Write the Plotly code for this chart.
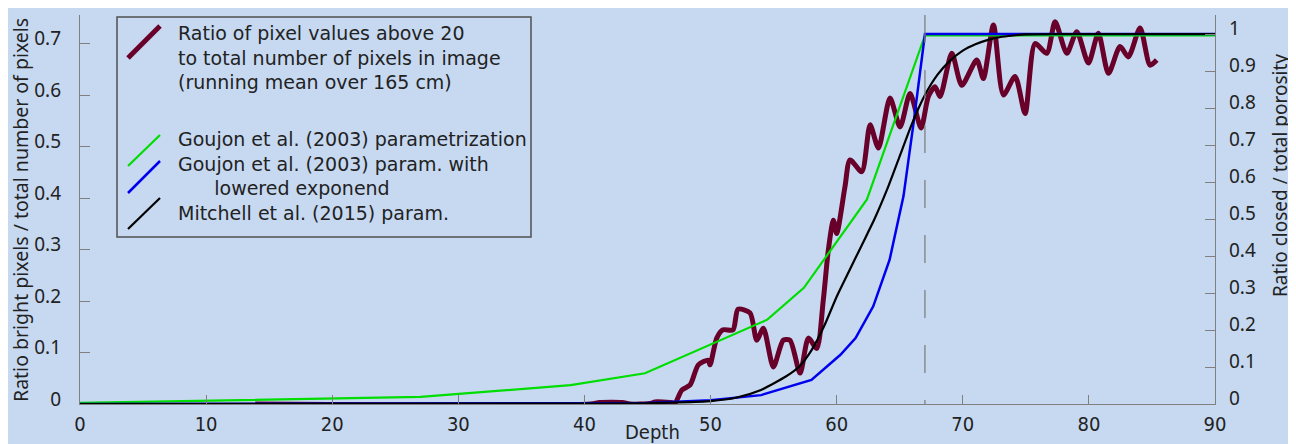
import plotly.graph_objects as go

# ---------------- data ----------------
# measured ratio (left axis)
meas_depth = [13.9, 40.5, 41.2, 43.0, 43.6, 45.2, 45.6, 46.8, 47.18, 47.72, 48.38, 49.03, 49.82, 49.96,
              50.49, 50.99, 51.78, 52.18, 53.13, 53.66, 54.19, 54.98, 55.77, 56.30, 57.10, 57.76,
              58.42, 58.94, 59.34, 59.74, 60.0, 60.66, 61.06, 61.99, 62.65, 63.31, 64.23, 65.03,
              65.82, 66.69, 67.27, 67.80, 68.20, 69.13, 69.92, 71.11, 71.63, 72.43, 73.22, 74.15,
              74.94, 75.73, 76.66, 77.32, 78.25, 79.04, 79.96, 80.75, 81.55, 82.47, 83.13, 84.06,
              84.85, 85.38]
meas_ratio = [0.0, 0.0, 0.003, 0.003, 0.0, 0.001, 0.004, 0.003, 0.002, 0.027, 0.037, 0.076, 0.085, 0.076,
              0.128, 0.144, 0.144, 0.184, 0.177, 0.124, 0.147, 0.072, 0.124, 0.124, 0.060, 0.128,
              0.108, 0.202, 0.299, 0.357, 0.331, 0.422, 0.474, 0.451, 0.542, 0.497, 0.594, 0.538,
              0.603, 0.536, 0.597, 0.616, 0.597, 0.681, 0.619, 0.668, 0.632, 0.736, 0.600, 0.636,
              0.564, 0.700, 0.681, 0.742, 0.681, 0.723, 0.662, 0.720, 0.642, 0.694, 0.674, 0.730,
              0.658, 0.668]

# Goujon et al. (2003) parametrization (right axis)
goujon_depth = [0, 27, 38.9, 44.8, 54.5, 57.4, 62.4, 67.0, 90]
goujon_ratio = [0.003, 0.019, 0.051, 0.083, 0.228, 0.314, 0.553, 0.996, 0.996]

# Goujon et al. (2003) with lowered exponent (right axis)
lowered_depth = [0, 45, 50, 54, 58, 60.3, 61.5, 62.9, 64.2, 65.3, 66.1, 67.0, 90]
lowered_ratio = [0.0, 0.003, 0.01, 0.024, 0.065, 0.133, 0.178, 0.264, 0.39, 0.562, 0.76, 1.0, 1.0]

# Mitchell et al. (2015) param. (right axis)
mitchell_depth = [0, 40, 45, 47, 50, 52, 54, 56, 57, 58, 59, 60, 61, 62, 63, 64, 65, 66, 67, 68, 69,
                  70, 71, 72, 73, 74, 75, 78, 90]
mitchell_ratio = [0.0, 0.001, 0.002, 0.004, 0.008, 0.017, 0.038, 0.075, 0.1, 0.145, 0.21, 0.29, 0.36,
                  0.43, 0.5, 0.58, 0.67, 0.76, 0.835, 0.89, 0.928, 0.955, 0.972, 0.984, 0.992, 0.996,
                  0.999, 1.0, 1.0]

x_ticks = [0, 10, 20, 30, 40, 50, 60, 70, 80, 90]
close_off_depth = 67.0

legend_measured = [
    "Ratio of pixel values above 20",
    "to total number of pixels in image",
    "(running mean over 165 cm)",
]
legend_models = [
    "Goujon et al. (2003) parametrization",
    "Goujon et al. (2003) param. with",
    "&nbsp;&nbsp;&nbsp;&nbsp;&nbsp;&nbsp;lowered exponend",
    "Mitchell et al. (2015) param.",
]

# ---------------- style / layout ----------------
W, H = 1296, 444
OFF = 8                      # page offset of the figure (body margin)
L, R, T, B = 80, 1215, 15, 404   # plot area in page pixels
BG = "#c6d9f1"
AX = "#808080"
TXT = "#222222"
FONT = "Noto Sans"
LEGFONT = "DejaVu Sans"
NARROW = "Liberation Sans Narrow, DejaVu Sans Condensed, Roboto Condensed, Roboto, sans-serif"
MAROON = "#68002a"
GREEN = "#00dd00"
BLUE = "#0000ee"


def px(xp):
    return (xp - L) / (R - L)


def py(yp):
    return (B - yp) / (B - T)


fig = go.Figure()
fig.add_trace(go.Scatter(x=goujon_depth, y=goujon_ratio, yaxis="y2", mode="lines",
                         line=dict(color=GREEN, width=2.2), showlegend=False))
fig.add_trace(go.Scatter(x=lowered_depth, y=lowered_ratio, yaxis="y2", mode="lines",
                         line=dict(color=BLUE, width=2.5), showlegend=False))
fig.add_trace(go.Scatter(x=mitchell_depth, y=mitchell_ratio, yaxis="y2", mode="lines",
                         line=dict(color="black", width=2.2, shape="spline", smoothing=0.6),
                         showlegend=False))
fig.add_trace(go.Scatter(x=meas_depth, y=meas_ratio, yaxis="y", mode="lines",
                         line=dict(color=MAROON, width=5, shape="spline", smoothing=0.7),
                         showlegend=False))

shapes = []
# dashed vertical line
shapes.append(dict(type="line", xref="x", yref="paper", x0=close_off_depth, x1=close_off_depth, y0=1, y1=0,
                   line=dict(color=AX, width=1.3, dash="28px,27px")))
# legend box
shapes.append(dict(type="rect", xref="paper", yref="paper", x0=px(117), x1=px(531), y0=py(237), y1=py(17),
                   fillcolor=BG, line=dict(color="#505050", width=1.5)))
# legend symbols
for (col, w, ya, yb) in [(MAROON, 5, 58, 26), (GREEN, 2.2, 166, 135), (BLUE, 2.5, 193, 161), ("black", 2.2, 229, 198)]:
    shapes.append(dict(type="line", xref="paper", yref="paper", x0=px(128), x1=px(160), y0=py(ya), y1=py(yb),
                       line=dict(color=col, width=w)))

annotations = []
annotations.append(dict(text="<br>".join(legend_measured), xref="paper", yref="paper", x=px(176), y=py(57.5),
                        xanchor="left", yanchor="middle", align="left", showarrow=False,
                        font=dict(family=LEGFONT, size=19, color=TXT)))
annotations.append(dict(text="<br>".join(legend_models), xref="paper", yref="paper", x=px(176), y=py(176),
                        xanchor="left", yanchor="middle", align="left", showarrow=False,
                        font=dict(family=LEGFONT, size=19, color=TXT)))
annotations.append(dict(text="Ratio bright pixels / total number of pixels", xref="paper", yref="paper",
                        x=px(21), y=py(210), textangle=-90, showarrow=False, xanchor="center", yanchor="middle",
                        font=dict(family=FONT, size=19.5, color=TXT)))
annotations.append(dict(text="Ratio closed / total porosity", xref="paper", yref="paper",
                        x=px(1280), y=py(176), textangle=-90, showarrow=False, xanchor="center", yanchor="middle",
                        font=dict(family=FONT, size=19, color=TXT)))
annotations.append(dict(text="Depth", xref="paper", yref="paper", x=px(652), y=py(432), showarrow=False,
                        xanchor="center", yanchor="middle",
                        font=dict(family=NARROW, size=20, color=TXT)))

fig.update_layout(
    width=W, height=H,
    margin=dict(l=L - OFF, r=W + OFF - R, t=T - OFF, b=H + OFF - B, autoexpand=False),
    paper_bgcolor=BG, plot_bgcolor=BG,
    shapes=shapes, annotations=annotations, showlegend=False,
    xaxis=dict(range=[0, 90], tickvals=x_ticks, ticks="inside", ticklen=9, tickcolor=AX, tickwidth=1,
               showline=True, linecolor=AX, linewidth=1.3, showgrid=False, zeroline=False,
               ticklabelstandoff=2,
               tickfont=dict(family=NARROW, size=20, color=TXT)),
    yaxis=dict(range=[0, (B - T) / 515.0], dtick=0.1, tick0=0, ticks="inside", ticklen=10, tickcolor=AX,
               showline=True, linecolor=AX, linewidth=1.3, showgrid=False, zeroline=False,
               ticklabelstandoff=14, ticklabelshift=-5,
               tickfont=dict(family=FONT, size=19, color=TXT)),
    yaxis2=dict(range=[0, (B - T) / 370.0], dtick=0.1, tick0=0, ticks="inside", ticklen=10, tickcolor=AX,
                overlaying="y", side="right", anchor="x",
                showline=True, linecolor=AX, linewidth=1.3, showgrid=False, zeroline=False,
                ticklabelstandoff=9, ticklabelshift=-6,
                tickfont=dict(family=FONT, size=19, color=TXT)),
)

fig.write_html("out.html")
